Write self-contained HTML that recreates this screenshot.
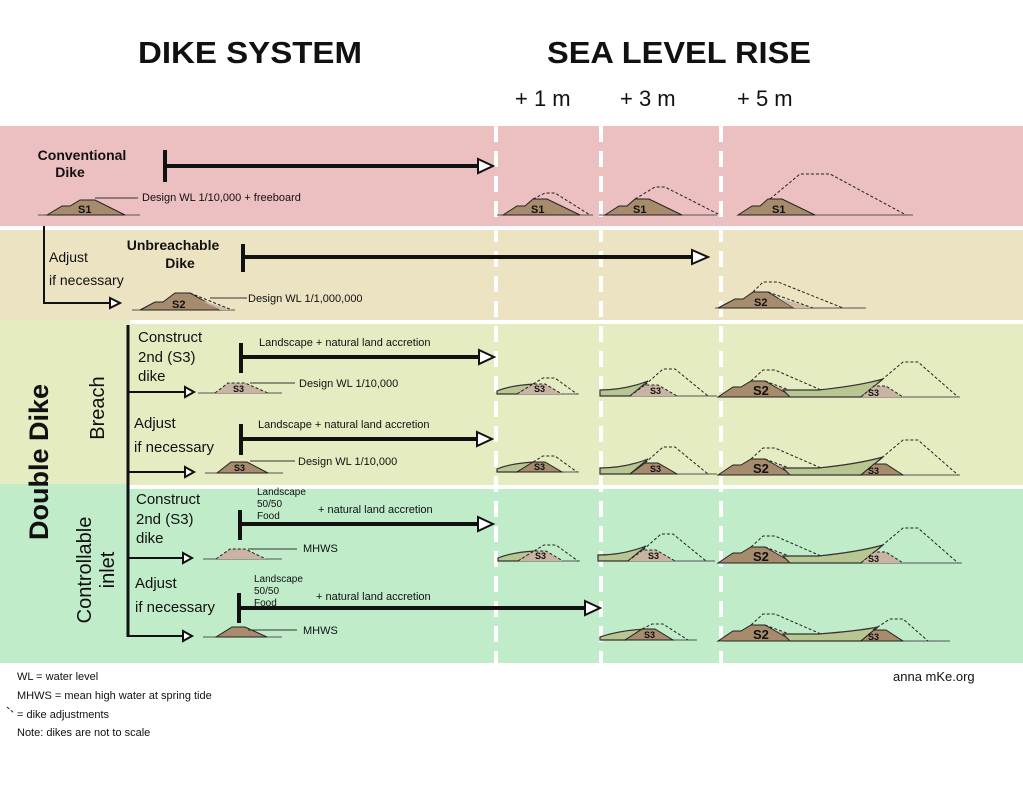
<!DOCTYPE html>
<html><head><meta charset="utf-8"><style>
html,body{margin:0;padding:0;background:#fff}
svg{display:block}
text{font-family:"Liberation Sans","DejaVu Sans",sans-serif;fill:#111}
.t{font-size:11px}
.m{font-size:15px}
.b{font-weight:bold}
.d{fill:none;stroke:#222;stroke-width:1;stroke-dasharray:3 2}
.g{fill:#b8c692;stroke:#333;stroke-width:1.2}
.lt{fill:#c9b4a3}
.dk{fill:#a68b6d;stroke:#222;stroke-width:1}
.bl{stroke:#555;stroke-width:1;fill:none}
.ar{stroke:#111;stroke-width:4;fill:none}
.tri{fill:#fff;stroke:#111;stroke-width:2}
.sl{font-size:11px;font-weight:bold}
</style></head><body>
<svg width="1023" height="796" viewBox="0 0 1023 796">
<!-- bands -->
<rect x="0" y="126" width="1023" height="100" fill="#ecbfc1"/>
<rect x="0" y="230" width="1023" height="90" fill="#ece3c2"/>
<rect x="0" y="324" width="1023" height="161" fill="#e6ecc2"/>
<rect x="0" y="489" width="1023" height="174" fill="#c0ecca"/>
<rect x="0" y="484" width="128" height="6" fill="#c0ecca"/>
<rect x="0" y="320" width="130" height="5" fill="#e6ecc2"/>
<!-- dashed separators -->
<g stroke="#fff" stroke-width="4" stroke-dasharray="16 9">
<line x1="496" y1="126" x2="496" y2="663"/>
<line x1="601" y1="126" x2="601" y2="663"/>
<line x1="721" y1="126" x2="721" y2="663"/>
</g>
<!-- titles -->
<text x="138" y="63" class="b" font-size="31" textLength="224" lengthAdjust="spacingAndGlyphs">DIKE SYSTEM</text>
<text x="547" y="63" class="b" font-size="31" textLength="264" lengthAdjust="spacingAndGlyphs">SEA LEVEL RISE</text>
<text x="515" y="106" font-size="22">+ 1 m</text>
<text x="620" y="106" font-size="22">+ 3 m</text>
<text x="737" y="106" font-size="22">+ 5 m</text>

<!-- Row 1 -->
<text x="82" y="160" class="b" font-size="14" text-anchor="middle">Conventional</text>
<text x="70" y="177" class="b" font-size="14" text-anchor="middle">Dike</text>
<line x1="165" y1="150" x2="165" y2="182" class="ar"/>
<line x1="165" y1="166" x2="480" y2="166" class="ar"/>
<polygon points="478,159 493,166 478,173" class="tri"/>
<line x1="38" y1="215" x2="140" y2="215" class="bl"/>
<polygon points="47,215 62,206 70,206 80,200 95,200 125,215" class="dk"/>
<text x="78" y="213" class="sl">S1</text>
<line x1="95" y1="198" x2="138" y2="198" stroke="#333"/>
<text x="142" y="201" class="t">Design WL 1/10,000 + freeboard</text>
<!-- row1 right -->
<g transform="translate(503,215)">
<line x1="-6" y1="0" x2="90" y2="0" class="bl"/>
<polygon points="0,0 14,-9 22,-9 30,-16 44,-16 77,0" class="dk"/>
<path d="M30,-16 L42,-22 L52,-22 L87,0" class="d"/>
<text x="28" y="-2" class="sl">S1</text>
</g>
<g transform="translate(605,215)">
<line x1="-6" y1="0" x2="112" y2="0" class="bl"/>
<polygon points="0,0 14,-9 22,-9 30,-16 44,-16 77,0" class="dk"/>
<path d="M30,-16 L50,-28 L60,-28 L115,0" class="d"/>
<text x="28" y="-2" class="sl">S1</text>
</g>
<g transform="translate(738,215)">
<line x1="0" y1="0" x2="175" y2="0" class="bl"/>
<polygon points="0,0 14,-9 22,-9 30,-16 44,-16 77,0" class="dk"/>
<path d="M32,-16 L62,-41 L92,-41 L168,0" class="d"/>
<text x="34" y="-2" class="sl">S1</text>
</g>

<!-- Row 2 -->
<polyline points="44,226 44,303 112,303" class="ar" style="stroke-width:2"/>
<polygon points="110,298 120,303 110,308" class="tri"/>
<text x="49" y="262" font-size="14">Adjust</text>
<text x="49" y="285" font-size="14">if necessary</text>
<text x="173" y="250" class="b" font-size="14" text-anchor="middle">Unbreachable</text>
<text x="180" y="268" class="b" font-size="14" text-anchor="middle">Dike</text>
<line x1="243" y1="244" x2="243" y2="272" class="ar"/>
<line x1="243" y1="257" x2="694" y2="257" class="ar"/>
<polygon points="692,250 708,257 692,264" class="tri"/>
<line x1="132" y1="310" x2="235" y2="310" class="bl"/>
<polygon points="140,310 155,302 163,302 175,293 190,293 220,310" class="dk"/>
<polygon points="200,300 232,310 220,310" fill="#cbb9a8"/>
<path d="M190,293 L232,310" class="d"/>
<text x="172" y="308" class="sl">S2</text>
<line x1="210" y1="298" x2="247" y2="298" stroke="#333"/>
<text x="248" y="302" class="t">Design WL 1/1,000,000</text>
<g transform="translate(718,308)">
<line x1="-3" y1="0" x2="148" y2="0" class="bl"/>
<polygon points="0,0 17,-9 25,-9 35,-16 50,-16 76,0" class="dk"/>
<polygon points="60,-10 95,0 76,0" fill="#cbb9a8"/>
<path d="M50,-16 L95,0" class="d"/>
<path d="M35,-16 L45,-26 L60,-26 L125,0" class="d"/>
<text x="36" y="-2" class="sl">S2</text>
</g>

<!-- Double dike left column -->
<text transform="translate(48,462) rotate(-90)" class="b" font-size="27" text-anchor="middle">Double Dike</text>
<text transform="translate(104,408) rotate(-90)" font-size="20" text-anchor="middle">Breach</text>
<text transform="translate(91,570) rotate(-90)" font-size="20" text-anchor="middle">Controllable</text>
<text transform="translate(114,570) rotate(-90)" font-size="20" text-anchor="middle">inlet</text>
<line x1="128" y1="325" x2="128" y2="637" class="ar" style="stroke-width:3"/>

<!-- Row 3 -->
<text x="138" y="342" class="m">Construct</text>
<text x="138" y="362" class="m">2nd (S3)</text>
<text x="138" y="381" class="m">dike</text>
<line x1="128" y1="392" x2="186" y2="392" stroke="#111" stroke-width="2"/>
<polygon points="185,387 194,392 185,397" class="tri"/>
<line x1="241" y1="343" x2="241" y2="373" class="ar"/>
<line x1="241" y1="357" x2="480" y2="357" class="ar"/>
<polygon points="479,350 494,357 479,364" class="tri"/>
<text x="259" y="346" class="t">Landscape + natural land accretion</text>
<line x1="198" y1="393" x2="282" y2="393" class="bl"/>
<polygon points="215,393 228,383 245,383 268,393" class="lt"/>
<path d="M215,393 L228,383 L245,383 L268,393" class="d"/>
<text x="233" y="392" font-size="9" font-weight="bold">S3</text>
<line x1="250" y1="383" x2="295" y2="383" stroke="#333"/>
<text x="299" y="387" class="t">Design WL 1/10,000</text>

<!-- Row 4 -->
<text x="134" y="428" class="m">Adjust</text>
<text x="134" y="452" class="m">if necessary</text>
<line x1="128" y1="472" x2="186" y2="472" stroke="#111" stroke-width="2"/>
<polygon points="185,467 194,472 185,477" class="tri"/>
<line x1="241" y1="424" x2="241" y2="455" class="ar"/>
<line x1="241" y1="439" x2="478" y2="439" class="ar"/>
<polygon points="477,432 492,439 477,446" class="tri"/>
<text x="258" y="428" class="t">Landscape + natural land accretion</text>
<line x1="205" y1="473" x2="283" y2="473" class="bl"/>
<polygon points="217,473 231,462 247,462 268,473" class="dk"/>
<text x="234" y="471" font-size="9" font-weight="bold">S3</text>
<line x1="250" y1="461" x2="295" y2="461" stroke="#333"/>
<text x="298" y="465" class="t">Design WL 1/10,000</text>

<!-- Row 5 -->
<text x="136" y="504" class="m">Construct</text>
<text x="136" y="524" class="m">2nd (S3)</text>
<text x="136" y="543" class="m">dike</text>
<line x1="128" y1="558" x2="184" y2="558" stroke="#111" stroke-width="2"/>
<polygon points="183,553 192,558 183,563" class="tri"/>
<text x="257" y="495" font-size="10">Landscape</text>
<text x="257" y="507" font-size="10">50/50</text>
<text x="257" y="519" font-size="10">Food</text>
<text x="318" y="513" class="t">+ natural land accretion</text>
<line x1="240" y1="510" x2="240" y2="540" class="ar"/>
<line x1="240" y1="524" x2="479" y2="524" class="ar"/>
<polygon points="478,517 493,524 478,531" class="tri"/>
<line x1="203" y1="559" x2="282" y2="559" class="bl"/>
<polygon points="216,559 230,549 245,549 266,559" class="lt"/>
<path d="M216,559 L230,549 L245,549 L266,559" class="d"/>
<line x1="248" y1="549" x2="297" y2="549" stroke="#333"/>
<text x="303" y="552" class="t">MHWS</text>

<!-- Row 6 -->
<text x="135" y="588" class="m">Adjust</text>
<text x="135" y="612" class="m">if necessary</text>
<line x1="128" y1="636" x2="184" y2="636" stroke="#111" stroke-width="2"/>
<polygon points="183,631 192,636 183,641" class="tri"/>
<text x="254" y="582" font-size="10">Landscape</text>
<text x="254" y="594" font-size="10">50/50</text>
<text x="254" y="606" font-size="10">Food</text>
<text x="316" y="600" class="t">+ natural land accretion</text>
<line x1="239" y1="593" x2="239" y2="623" class="ar"/>
<line x1="239" y1="608" x2="586" y2="608" class="ar"/>
<polygon points="585,601 600,608 585,615" class="tri"/>
<line x1="203" y1="637" x2="282" y2="637" class="bl"/>
<polygon points="216,637 232,627 245,627 267,637" class="dk"/>
<line x1="248" y1="630" x2="297" y2="630" stroke="#333"/>
<text x="303" y="634" class="t">MHWS</text>

<!-- Double dike right patterns -->
<!-- +1m breach construct -->
<g transform="translate(497,394)">
<line x1="0" y1="0" x2="82" y2="0" class="bl"/>
<path d="M0,-3 Q15,-9 38,-10 L20,0 L0,0 Z" class="g"/>
<polygon points="20,0 36,-10 48,-10 65,0" class="lt"/>
<path d="M20,0 L36,-10 L48,-10 L65,0" class="d"/>
<path d="M36,-10 L46,-16 L58,-16 L80,0" class="d"/>
<text x="37" y="-2" font-size="9" font-weight="bold">S3</text>
</g>
<g transform="translate(600,396)">
<line x1="0" y1="0" x2="117" y2="0" class="bl"/>
<path d="M0,-6 Q25,-6 48,-15 L30,0 L0,0 Z" class="g"/>
<polygon points="30,0 45,-11 58,-11 77,0" class="lt"/>
<path d="M30,0 L45,-11 L58,-11 L77,0" class="d"/>
<path d="M45,-11 L63,-27 L75,-27 L108,0" class="d"/>
<text x="50" y="-2" font-size="9" font-weight="bold">S3</text>
</g>
<g transform="translate(718,397)">
<line x1="0" y1="0" x2="242" y2="0" class="bl"/>
<polygon points="0,0 15,-10 23,-10 33,-16 47,-16 75,0" class="dk"/>
<polygon points="55,-12 90,0 75,0" fill="#cbb9a8"/>
<path d="M47,-16 L90,0" class="d"/>
<path d="M33,-16 L45,-27 L57,-27 L103,-7" class="d"/>
<path d="M65,-7 L100,-7 Q140,-11 165,-18 L143,0 L72,0 Z" class="g"/>
<polygon points="143,0 156,-11 168,-11 185,0" class="lt"/>
<path d="M143,0 L156,-11 L168,-11 L185,0" class="d"/>
<path d="M160,-14 L185,-35 L200,-35 L240,0" class="d"/>
<text x="35" y="-2" font-size="13" font-weight="bold">S2</text>
<text x="150" y="-1" font-size="9" font-weight="bold">S3</text>
</g>

<!-- breach adjust row -->
<g transform="translate(497,472)">
<line x1="0" y1="0" x2="82" y2="0" class="bl"/>
<path d="M0,-3 Q15,-9 38,-10 L20,0 L0,0 Z" class="g"/>
<polygon points="20,0 36,-10 48,-10 65,0" class="dk"/>
<path d="M36,-10 L46,-16 L58,-16 L80,0" class="d"/>
<text x="37" y="-2" font-size="9" font-weight="bold">S3</text>
</g>
<g transform="translate(600,474)">
<line x1="0" y1="0" x2="117" y2="0" class="bl"/>
<path d="M0,-6 Q25,-6 48,-15 L30,0 L0,0 Z" class="g"/>
<polygon points="30,0 45,-11 58,-11 77,0" class="dk"/>
<path d="M45,-11 L63,-27 L75,-27 L108,0" class="d"/>
<text x="50" y="-2" font-size="9" font-weight="bold">S3</text>
</g>
<g transform="translate(718,475)">
<line x1="0" y1="0" x2="242" y2="0" class="bl"/>
<polygon points="0,0 15,-10 23,-10 33,-16 47,-16 75,0" class="dk"/>
<polygon points="55,-12 90,0 75,0" fill="#cbb9a8"/>
<path d="M47,-16 L90,0" class="d"/>
<path d="M33,-16 L45,-27 L57,-27 L103,-7" class="d"/>
<path d="M65,-7 L100,-7 Q140,-11 165,-18 L143,0 L72,0 Z" class="g"/>
<polygon points="143,0 156,-11 168,-11 185,0" class="dk"/>
<path d="M160,-14 L185,-35 L200,-35 L240,0" class="d"/>
<text x="35" y="-2" font-size="13" font-weight="bold">S2</text>
<text x="150" y="-1" font-size="9" font-weight="bold">S3</text>
</g>

<!-- inlet construct row -->
<g transform="translate(498,561)">
<line x1="0" y1="0" x2="82" y2="0" class="bl"/>
<path d="M0,-3 Q15,-9 38,-10 L20,0 L0,0 Z" class="g"/>
<polygon points="20,0 36,-10 48,-10 65,0" class="lt"/>
<path d="M20,0 L36,-10 L48,-10 L65,0" class="d"/>
<path d="M36,-10 L46,-16 L58,-16 L80,0" class="d"/>
<text x="37" y="-2" font-size="9" font-weight="bold">S3</text>
</g>
<g transform="translate(598,561)">
<line x1="0" y1="0" x2="117" y2="0" class="bl"/>
<path d="M0,-6 Q25,-6 48,-15 L30,0 L0,0 Z" class="g"/>
<polygon points="30,0 45,-11 58,-11 77,0" class="lt"/>
<path d="M30,0 L45,-11 L58,-11 L77,0" class="d"/>
<path d="M45,-11 L63,-27 L75,-27 L108,0" class="d"/>
<text x="50" y="-2" font-size="9" font-weight="bold">S3</text>
</g>
<g transform="translate(718,563)">
<line x1="0" y1="0" x2="244" y2="0" class="bl"/>
<polygon points="0,0 15,-10 23,-10 33,-16 47,-16 75,0" class="dk"/>
<polygon points="55,-12 90,0 75,0" fill="#cbb9a8"/>
<path d="M47,-16 L90,0" class="d"/>
<path d="M33,-16 L45,-27 L57,-27 L103,-7" class="d"/>
<path d="M65,-7 L100,-7 Q140,-11 165,-18 L143,0 L72,0 Z" class="g"/>
<polygon points="143,0 156,-11 168,-11 185,0" class="lt"/>
<path d="M143,0 L156,-11 L168,-11 L185,0" class="d"/>
<path d="M160,-14 L185,-35 L200,-35 L240,0" class="d"/>
<text x="35" y="-2" font-size="13" font-weight="bold">S2</text>
<text x="150" y="-1" font-size="9" font-weight="bold">S3</text>
</g>

<!-- inlet adjust row -->
<g transform="translate(600,640)">
<line x1="0" y1="0" x2="97" y2="0" class="bl"/>
<path d="M0,-3 Q20,-10 48,-11 L25,0 L0,0 Z" class="g"/>
<polygon points="25,0 42,-11 55,-11 73,0" class="dk"/>
<path d="M42,-11 L52,-16 L63,-16 L88,0" class="d"/>
<text x="44" y="-2" font-size="9" font-weight="bold">S3</text>
</g>
<g transform="translate(718,641)">
<line x1="0" y1="0" x2="232" y2="0" class="bl"/>
<polygon points="0,0 15,-10 23,-10 33,-16 47,-16 75,0" class="dk"/>
<polygon points="55,-12 90,0 75,0" fill="#cbb9a8"/>
<path d="M47,-16 L90,0" class="d"/>
<path d="M33,-16 L45,-27 L57,-27 L103,-7" class="d"/>
<path d="M65,-7 L100,-7 Q140,-10 160,-14 L143,0 L72,0 Z" class="g"/>
<polygon points="143,0 156,-11 168,-11 185,0" class="dk"/>
<path d="M155,-11 L172,-22 L185,-22 L210,0" class="d"/>
<text x="35" y="-2" font-size="13" font-weight="bold">S2</text>
<text x="150" y="-1" font-size="9" font-weight="bold">S3</text>
</g>

<!-- footnotes -->
<text x="17" y="680" class="t">WL = water level</text>
<text x="17" y="699" class="t">MHWS = mean high water at spring tide</text>
<path d="M7,707 L14,713" class="d"/>
<text x="17" y="718" class="t">= dike adjustments</text>
<text x="17" y="736" class="t">Note: dikes are not to scale</text>
<text x="893" y="681" font-size="13">anna mKe.org</text>
</svg>
</body></html>
